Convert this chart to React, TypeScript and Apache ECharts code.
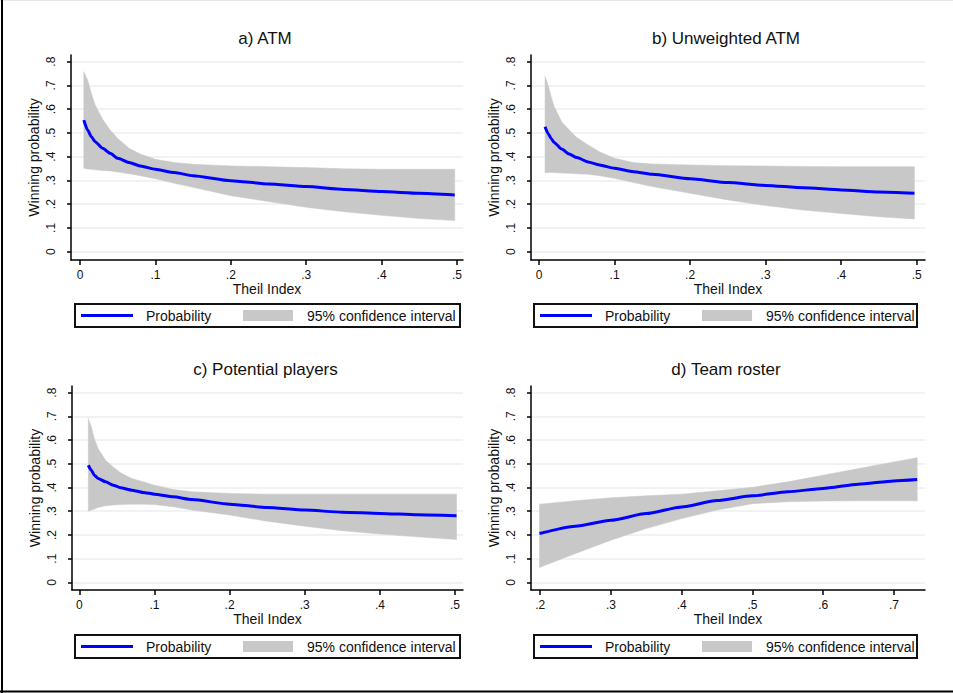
import React, { useEffect, useRef } from 'react';
import * as echarts from 'echarts';

// ---------- data ----------
const yTicks = [0, 0.1, 0.2, 0.3, 0.4, 0.5, 0.6, 0.7, 0.8];
const theilTicks = [0, 0.1, 0.2, 0.3, 0.4, 0.5];
const rosterTicks = [0.2, 0.3, 0.4, 0.5, 0.6, 0.7];

const titles = ['a) ATM', 'b) Unweighted ATM', 'c) Potential players', 'd) Team roster'];
const xAxisTitle = 'Theil Index';
const yAxisTitle = 'Winning probability';
const legendLine = 'Probability';
const legendBand = '95% confidence interval';

// a) ATM
const atmX = [0.005, 0.01, 0.015, 0.02, 0.03, 0.04, 0.05, 0.065, 0.08, 0.1, 0.125, 0.15, 0.2, 0.25, 0.3, 0.35, 0.4, 0.45, 0.497];
const atmProb = [0.554, 0.512, 0.484, 0.463, 0.435, 0.414, 0.393, 0.375, 0.361, 0.347, 0.333, 0.32, 0.299, 0.285, 0.274, 0.262, 0.253, 0.246, 0.239];
const atmUpper = [0.758, 0.723, 0.667, 0.618, 0.557, 0.512, 0.477, 0.435, 0.411, 0.389, 0.375, 0.368, 0.361, 0.358, 0.354, 0.349, 0.347, 0.347, 0.347];
const atmLower = [0.351, 0.348, 0.347, 0.345, 0.342, 0.34, 0.335, 0.328, 0.32, 0.307, 0.288, 0.271, 0.236, 0.211, 0.187, 0.168, 0.153, 0.14, 0.131];

// b) Unweighted ATM
const uwX = [0.008, 0.012, 0.016, 0.02, 0.03, 0.04, 0.05, 0.065, 0.08, 0.1, 0.125, 0.15, 0.2, 0.25, 0.3, 0.35, 0.4, 0.45, 0.497];
const uwProb = [0.526, 0.498, 0.477, 0.46, 0.432, 0.411, 0.396, 0.378, 0.365, 0.351, 0.337, 0.326, 0.307, 0.291, 0.279, 0.269, 0.26, 0.251, 0.246];
const uwUpper = [0.737, 0.702, 0.653, 0.611, 0.547, 0.512, 0.481, 0.449, 0.421, 0.393, 0.375, 0.369, 0.365, 0.362, 0.361, 0.359, 0.358, 0.358, 0.358];
const uwLower = [0.333, 0.333, 0.333, 0.333, 0.331, 0.33, 0.328, 0.326, 0.32, 0.309, 0.291, 0.274, 0.246, 0.218, 0.194, 0.175, 0.161, 0.147, 0.138];

// c) Potential players
const ppX = [0.012, 0.016, 0.02, 0.025, 0.035, 0.045, 0.055, 0.07, 0.085, 0.1, 0.125, 0.15, 0.2, 0.25, 0.3, 0.35, 0.4, 0.45, 0.502];
const ppProb = [0.494, 0.473, 0.452, 0.438, 0.424, 0.41, 0.399, 0.389, 0.379, 0.372, 0.361, 0.349, 0.33, 0.316, 0.305, 0.296, 0.291, 0.285, 0.281];
const ppUpper = [0.691, 0.655, 0.606, 0.564, 0.515, 0.487, 0.462, 0.438, 0.424, 0.41, 0.392, 0.382, 0.375, 0.372, 0.372, 0.372, 0.372, 0.372, 0.372];
const ppLower = [0.3, 0.305, 0.309, 0.316, 0.323, 0.326, 0.328, 0.33, 0.33, 0.328, 0.319, 0.305, 0.284, 0.258, 0.237, 0.218, 0.204, 0.192, 0.181];

// d) Team roster
const trX = [0.199, 0.25, 0.3, 0.35, 0.4, 0.45, 0.5, 0.55, 0.6, 0.65, 0.7, 0.733];
const trProb = [0.206, 0.237, 0.262, 0.29, 0.318, 0.345, 0.365, 0.382, 0.396, 0.414, 0.428, 0.434];
const trUpper = [0.33, 0.344, 0.357, 0.365, 0.372, 0.386, 0.401, 0.424, 0.452, 0.48, 0.508, 0.526];
const trLower = [0.063, 0.122, 0.178, 0.227, 0.269, 0.305, 0.332, 0.34, 0.343, 0.344, 0.344, 0.344];

// ---------- layout ----------
const FONT = '"Liberation Sans", Arial, sans-serif';
const BLUE = '#0000ff';
const BAND = '#c8c8c8';
const GRIDC = '#e8f0f2';
const TEXTC = '#111111';

const panels = [
  { x: atmX, prob: atmProb, hi: atmUpper, lo: atmLower, ticks: theilTicks, min: -0.012, max: 0.508, ymin: -0.035,
    grid: { left: 71, top: 55, width: 392, height: 205 }, leg: { l: 75, t: 304, w: 385, h: 23 } },
  { x: uwX, prob: uwProb, hi: uwUpper, lo: uwLower, ticks: theilTicks, min: -0.0106, max: 0.511, ymin: -0.035,
    grid: { left: 531, top: 55, width: 394, height: 205 }, leg: { l: 534, t: 304, w: 383, h: 23 } },
  { x: ppX, prob: ppProb, hi: ppUpper, lo: ppLower, ticks: theilTicks, min: -0.0097, max: 0.5106, ymin: -0.032,
    grid: { left: 72, top: 386, width: 391, height: 204 }, leg: { l: 75, t: 635, w: 385, h: 23 } },
  { x: trX, prob: trProb, hi: trUpper, lo: trLower, ticks: rosterTicks, min: 0.187, max: 0.744, ymin: -0.032,
    grid: { left: 531, top: 386, width: 394, height: 204 }, leg: { l: 534, t: 635, w: 383, h: 23 } },
];

const fmt = (v: number) => {
  if (Math.abs(v) < 1e-9) return '0';
  return String(+v.toFixed(1)).replace(/^0\./, '.');
};

function buildOption() {
  const grid: any[] = [];
  const xAxis: any[] = [];
  const yAxis: any[] = [];
  const series: any[] = [];
  const title: any[] = [];
  const graphic: any[] = [];

  panels.forEach((p, i) => {
    grid.push({ ...p.grid, containLabel: false });
    title.push({
      text: titles[i],
      left: p.grid.left + p.grid.width / 2 - 2,
      top: p.grid.top - 25,
      textAlign: 'center',
      padding: 0,
      textStyle: { fontFamily: FONT, fontSize: 17, fontWeight: 'normal', color: TEXTC },
    });
    xAxis.push({
      type: 'value', gridIndex: i, min: p.min, max: p.max,
      name: xAxisTitle, nameLocation: 'middle', nameGap: 21,
      nameTextStyle: { fontFamily: FONT, fontSize: 14, color: TEXTC },
      axisLine: { show: true, onZero: false, lineStyle: { color: '#000', width: 1.5 } },
      axisTick: { show: true, customValues: p.ticks, length: 5, lineStyle: { color: '#000', width: 1.5 } },
      axisLabel: { show: true, customValues: p.ticks, formatter: fmt, margin: 9,
        fontFamily: FONT, fontSize: 12, color: TEXTC },
      splitLine: { show: false },
    });
    yAxis.push({
      type: 'value', gridIndex: i, min: p.ymin, max: 0.828,
      name: yAxisTitle, nameLocation: 'middle', nameGap: 30,
      nameTextStyle: { fontFamily: FONT, fontSize: 14, color: TEXTC },
      axisLine: { show: true, onZero: false, lineStyle: { color: '#000', width: 1.5 } },
      axisTick: { show: true, customValues: yTicks, length: 4, lineStyle: { color: '#000', width: 1.5 } },
      axisLabel: { show: true, customValues: yTicks, formatter: fmt, rotate: 90, margin: 14,
        fontFamily: FONT, fontSize: 12, color: TEXTC },
      splitLine: { show: true, lineStyle: { color: GRIDC, width: 1.5 } },
    });
    // 95% confidence band drawn as one polygon through the axis scales
    series.push({
      type: 'custom', xAxisIndex: i, yAxisIndex: i, silent: true, clip: true, z: 2,
      data: p.x.map((xv, k) => [xv, p.lo[k], p.hi[k]]),
      encode: { x: 0, y: [1, 2] },
      renderItem: (params: any, api: any) => {
        if (params.dataIndex !== 0) return null;
        const pts: number[][] = [];
        for (let k = 0; k < p.x.length; k++) pts.push(api.coord([p.x[k], p.hi[k]]));
        for (let k = p.x.length - 1; k >= 0; k--) pts.push(api.coord([p.x[k], p.lo[k]]));
        return { type: 'polygon', shape: { points: pts }, style: { fill: BAND, stroke: BAND, lineWidth: 0.5 } };
      },
    });
    series.push({
      type: 'line', xAxisIndex: i, yAxisIndex: i, symbol: 'none', silent: true,
      data: p.x.map((xv, k) => [xv, p.prob[k]]),
      lineStyle: { color: BLUE, width: 3 }, smooth: 0.2, smoothMonotone: 'x', z: 5,
    });

    const L = p.leg;
    graphic.push({
      type: 'group', children: [
        { type: 'rect', shape: { x: L.l, y: L.t, width: L.w, height: L.h },
          style: { fill: '#fff', stroke: '#111', lineWidth: 2 } },
        { type: 'line', shape: { x1: L.l + 6, y1: L.t + 11.5, x2: L.l + 58, y2: L.t + 11.5 },
          style: { stroke: BLUE, lineWidth: 3 } },
        { type: 'text', x: L.l + 71, y: L.t + 11.5,
          style: { text: legendLine, fill: TEXTC, fontFamily: FONT, fontSize: 14, verticalAlign: 'middle', align: 'left' } },
        { type: 'rect', shape: { x: L.l + 168, y: L.t + 6, width: 50, height: 11 },
          style: { fill: BAND } },
        { type: 'text', x: L.l + 232, y: L.t + 11.5,
          style: { text: legendBand, fill: TEXTC, fontFamily: FONT, fontSize: 14, verticalAlign: 'middle', align: 'left' } },
      ],
    });
  });

  // outer frame
  graphic.push({ type: 'line', shape: { x1: 0, y1: 0.5, x2: 953, y2: 0.5 }, style: { stroke: '#e4e8e8', lineWidth: 1 } });
  graphic.push({ type: 'line', shape: { x1: 2, y1: 0, x2: 2, y2: 693 }, style: { stroke: '#000', lineWidth: 2 } });
  graphic.push({ type: 'line', shape: { x1: 0, y1: 691.5, x2: 953, y2: 691.5 }, style: { stroke: '#000', lineWidth: 2 } });

  return {
    animation: false,
    backgroundColor: '#fff',
    title, grid, xAxis, yAxis, series, graphic,
  };
}

export default function App() {
  const ref = useRef<HTMLDivElement>(null);
  useEffect(() => {
    if (!ref.current) return;
    const chart = echarts.init(ref.current, undefined, { renderer: 'svg' });
    chart.setOption(buildOption() as any);
    return () => chart.dispose();
  }, []);
  return (
    <div
      ref={ref}
      style={{ position: 'fixed', left: 0, top: 0, width: 953, height: 693, background: '#fff' }}
    />
  );
}
